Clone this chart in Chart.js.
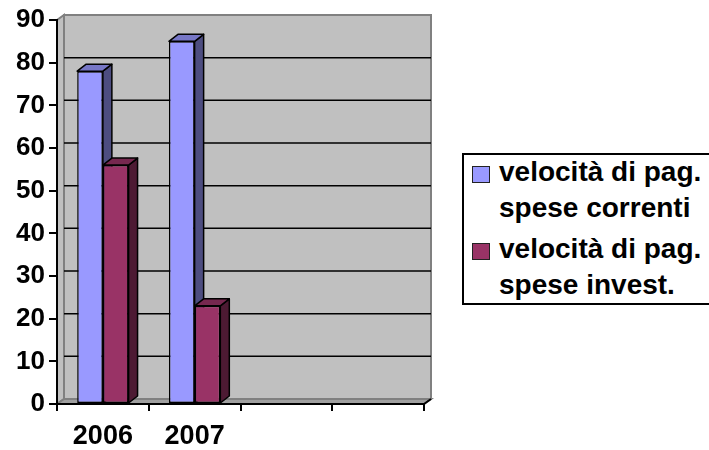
<!DOCTYPE html>
<html>
<head>
<meta charset="utf-8">
<script src="https://cdn.jsdelivr.net/npm/chart.js@4/dist/chart.umd.min.js"></script>
<style>
  body { margin: 0; background: #fff; overflow: hidden; }
  #wrap { position: relative; width: 709px; height: 450px; overflow: hidden; }
  #legend {
    position: absolute; left: 462px; top: 153px; width: 270px; height: 152px;
    box-sizing: border-box; border: 2px solid #000; background: #fff;
    font: bold 28px "Liberation Sans", Arial, sans-serif; line-height: 36px; color: #000;
  }
  .item { position: relative; padding-left: 35px; white-space: nowrap; }
  .item:first-child { margin-top: -1px; }
  .item + .item { margin-top: 5px; }
  .sw { position: absolute; left: 8px; top: 12px; width: 16px; height: 15px; border: 1.5px solid #222; }
</style>
</head>
<body>
<div id="wrap">
  <canvas id="chart" width="709" height="450"></canvas>
  <div id="legend"></div>
</div>
<script>
// data
const categories = ['2006', '2007', '', ''];
const correnti = [78, 85, null, null];
const invest = [56, 23, null, null];
const seriesNames = [
  ['velocità di pag.', 'spese correnti'],
  ['velocità di pag.', 'spese invest.']
];

// colours: front, side, top of each series
const fronts = ['#9999FF', '#993366'];
const sides = ['#4D4D80', '#4D1A33'];
const tops = ['#7777C6', '#76284F'];

const font = 'Liberation Sans, Arial, sans-serif';

function poly(ctx, pts) {
  ctx.beginPath();
  ctx.moveTo(pts[0][0], pts[0][1]);
  for (let i = 1; i < pts.length; i++) ctx.lineTo(pts[i][0], pts[i][1]);
  ctx.closePath();
  ctx.fill();
  ctx.stroke();
}

// grey back wall, side wall and floor of the 3d box
const wall = {
  id: 'wall',
  beforeDraw(chart) {
    const { ctx, chartArea: a, scales: { y } } = chart;
    const dx = 7, dy = -5;
    ctx.save();
    ctx.lineWidth = 2;
    ctx.strokeStyle = '#808080';
    ctx.fillStyle = '#C0C0C0';
    poly(ctx, [[a.left, a.bottom], [a.left, a.top], [a.left + dx, a.top + dy], [a.left + dx, a.bottom + dy]]);
    ctx.fillStyle = '#A0A0A0';
    poly(ctx, [[a.left, a.bottom], [a.right, a.bottom], [a.right + dx, a.bottom + dy], [a.left + dx, a.bottom + dy]]);
    ctx.fillStyle = '#C0C0C0';
    poly(ctx, [[a.left + dx, a.top + dy], [a.right + dx, a.top + dy], [a.right + dx, a.bottom + dy], [a.left + dx, a.bottom + dy]]);
    // grid lines on the back wall
    ctx.strokeStyle = '#000';
    ctx.lineWidth = 1.5;
    y.ticks.forEach(t => {
      if (t.value <= y.min || t.value >= y.max) return;
      const py = y.getPixelForValue(t.value) + dy;
      ctx.beginPath();
      ctx.moveTo(a.left + dx, py);
      ctx.lineTo(a.right + dx, py);
      ctx.stroke();
    });
    ctx.lineWidth = 2;
    ctx.beginPath();
    ctx.moveTo(a.right, a.bottom);
    ctx.lineTo(a.right + dx, a.bottom + dy);
    ctx.stroke();
    ctx.restore();
  }
};

// bars with side and top faces, drawn category by category
const bars3d = {
  id: 'bars3d',
  beforeDatasetsDraw(chart) {
    const ctx = chart.ctx;
    const dx = 9, dy = -7;
    const metas = chart.getSortedVisibleDatasetMetas();
    categories.forEach((c, i) => {
      metas.forEach(meta => {
        const k = meta.index;
        if (chart.data.datasets[k].data[i] == null) return;
        const bar = meta.data[i];
        const { x, y, base, width } = bar.getProps(['x', 'y', 'base', 'width'], true);
        const l = x - width / 2, r = x + width / 2;
        ctx.save();
        ctx.lineWidth = 1.5;
        ctx.strokeStyle = '#000';
        ctx.lineJoin = 'round';
        ctx.fillStyle = sides[k];
        poly(ctx, [[r, y], [r + dx, y + dy], [r + dx, base + dy], [r, base]]);
        ctx.fillStyle = tops[k];
        poly(ctx, [[l, y], [l + dx, y + dy], [r + dx, y + dy], [r, y]]);
        ctx.restore();
        bar.draw(ctx, chart.chartArea);
      });
    });
    return false;
  }
};

const chart = new Chart(document.getElementById('chart'), {
  type: 'bar',
  data: {
    labels: categories,
    datasets: [
      { label: seriesNames[0].join(' '), data: correnti, backgroundColor: fronts[0] },
      { label: seriesNames[1].join(' '), data: invest, backgroundColor: fronts[1] }
    ]
  },
  options: {
    responsive: false,
    animation: false,
    layout: { padding: { top: 20, right: 285, left: 0, bottom: 0 } },
    datasets: {
      bar: {
        categoryPercentage: 0.56,
        barPercentage: 1,
        borderColor: '#000',
        borderWidth: 1.5,
        borderSkipped: false
      }
    },
    plugins: {
      legend: { display: false },
      tooltip: { enabled: false }
    },
    scales: {
      x: {
        grid: { drawOnChartArea: false, color: '#000', lineWidth: 2, tickLength: 7, offset: true },
        border: { color: '#000', width: 2 },
        ticks: { color: '#000', padding: 9, maxRotation: 0, font: { family: font, size: 27, weight: 'bold' } },
        afterFit(s) { s.height = 46; }
      },
      y: {
        min: 0,
        max: 90,
        grid: { drawOnChartArea: false, color: '#000', lineWidth: 2, tickLength: 8 },
        border: { color: '#000', width: 2 },
        ticks: { stepSize: 10, color: '#000', padding: 4, font: { family: font, size: 26, weight: 'bold' } },
        afterFit(s) { s.width = 57; }
      }
    }
  },
  plugins: [wall, bars3d]
});

// legend as html, names wrap onto two lines like the original
const legend = document.getElementById('legend');
chart.data.datasets.forEach((ds, k) => {
  const item = document.createElement('div');
  item.className = 'item';
  const sw = document.createElement('span');
  sw.className = 'sw';
  sw.style.background = fronts[k];
  item.appendChild(sw);
  seriesNames[k].forEach((line, j) => {
    if (j) item.appendChild(document.createElement('br'));
    item.appendChild(document.createTextNode(line));
  });
  legend.appendChild(item);
});
</script>
</body>
</html>
